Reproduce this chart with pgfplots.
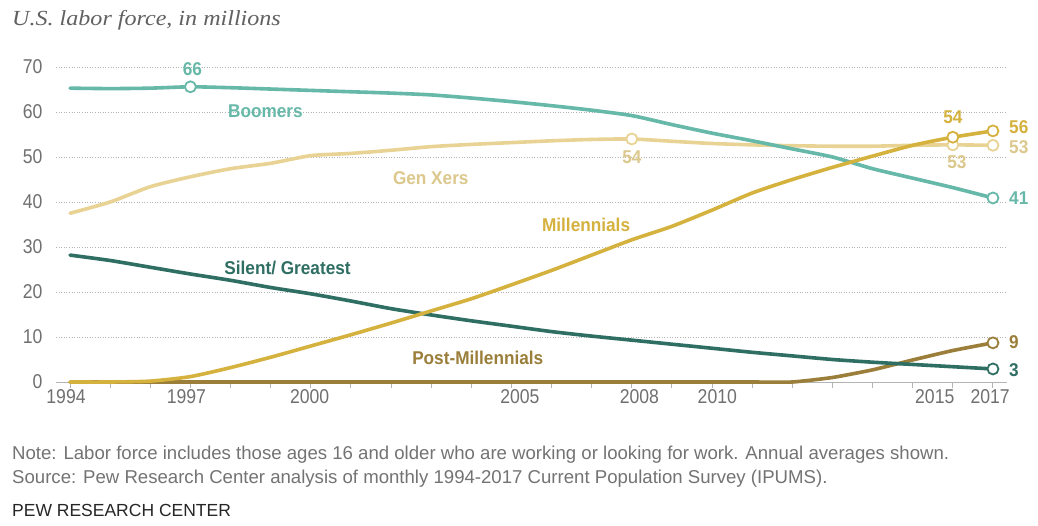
\documentclass[border=0pt]{standalone}
\usepackage{pgfplots}
\pgfplotsset{compat=1.18}
\usepackage{pgfplotstable}
\usepackage{fontspec}
\setmainfont{Liberation Sans}
\newfontfamily\cond[FakeStretch=0.88]{Liberation Sans}
\newfontfamily\lab[FakeStretch=0.93]{Liberation Sans}
\newfontfamily\ttl[FakeStretch=1.12]{Liberation Serif}

\definecolor{boom}{HTML}{66B8A8}
\definecolor{genx}{HTML}{E8D394}
\definecolor{mill}{HTML}{D5B13E}
\definecolor{silent}{HTML}{2F6E62}
\definecolor{postm}{HTML}{9A7E3A}
\definecolor{tick}{HTML}{707070}
\definecolor{grid}{HTML}{B4B4B4}

\pgfplotstableread{
year val
1994 65.3
1995 65.2
1996 65.3
1997 65.6
1998 65.4
1999 65.1
2000 64.8
2001 64.5
2002 64.2
2003 63.8
2004 63.1
2005 62.3
2006 61.4
2007 60.4
2008 59.2
2009 57.2
2010 55.3
2011 53.6
2012 51.8
2013 50.0
2014 47.4
2015 45.3
2016 43.2
2017 40.9
}\boomers

\pgfplotstableread{
year val
1994 37.5
1995 40.0
1996 43.4
1997 45.6
1998 47.4
1999 48.6
2000 50.3
2001 50.8
2002 51.5
2003 52.3
2004 52.8
2005 53.2
2006 53.6
2007 53.9
2008 54.0
2009 53.5
2010 53.0
2011 52.7
2012 52.5
2013 52.4
2014 52.4
2015 52.6
2016 52.7
2017 52.6
}\genx

\pgfplotstableread{
year val
1994 0
1995 0
1996 0.2
1997 1.2
1998 3.2
1999 5.5
2000 8.0
2001 10.5
2002 13.1
2003 15.8
2004 18.5
2005 21.6
2006 24.8
2007 28.2
2008 31.6
2009 34.6
2010 38.2
2011 42.0
2012 45.0
2013 47.7
2014 50.2
2015 52.6
2016 54.4
2017 55.8
}\mill

\pgfplotstableread{
year val
1994 28.2
1995 27.0
1996 25.5
1997 24.0
1998 22.6
1999 21.0
2000 19.6
2001 18.0
2002 16.3
2003 14.9
2004 13.6
2005 12.4
2006 11.2
2007 10.2
2008 9.3
2009 8.4
2010 7.5
2011 6.6
2012 5.8
2013 5.0
2014 4.4
2015 3.9
2016 3.4
2017 2.9
}\silent

\pgfplotstableread{
year val
1994 0
1995 0
1996 0
1997 0
1998 0
1999 0
2000 0
2001 0
2002 0
2003 0
2004 0
2005 0
2006 0
2007 0
2008 0
2009 0
2010 0
2011 0
2012 0
2013 1.0
2014 2.7
2015 4.9
2016 7.0
2017 8.7
}\postm

\begin{document}
\begin{tikzpicture}
\useasboundingbox[fill=white] (0,0) rectangle (1038pt,-525pt);
\begin{axis}[
  at={(56pt,-382pt)}, anchor=south west,
  scale only axis, width=951pt, height=315pt,
  xmin=1993.65, xmax=2017.35, ymin=0, ymax=70,
  clip=false,
  axis x line*=bottom,
  axis y line*=left,
  y axis line style={draw=none},
  x axis line style={draw=grid, line width=0.8pt},
  xtick={1993.9,1996.9,1999.97,2005.21,2008.19,2010.13,2015.55,2016.93},
  xticklabels={1994,1997,2000,2005,2008,2010,2015,2017},
  minor xtick={1994,...,2017},
  major tick length=0pt,
  minor tick length=6pt,
  xtick align=outside,
  minor tick style={draw=grid, line width=0.8pt},
  ytick={0,10,...,70},
  yticklabels={0,10,20,30,40,50,60,70},
  ymajorgrids,
  major grid style={draw=grid, line width=0.9pt, dash pattern=on 1pt off 1.6pt},
  ticklabel style={font=\cond\fontsize{20}{22}\selectfont, text=tick},
  xticklabel style={yshift=-4pt},
  yticklabel style={xshift=-10pt},
  every axis plot/.append style={line width=3.6pt, line join=round, line cap=round},
]
\addplot[postm, smooth, tension=0.3] table[x=year,y=val]{\postm};
\addplot[silent, smooth, tension=0.4] table[x=year,y=val]{\silent};
\addplot[genx, smooth, tension=0.4] table[x=year,y=val]{\genx};
\addplot[boom, smooth, tension=0.4] table[x=year,y=val]{\boomers};
\addplot[mill, smooth, tension=0.4] table[x=year,y=val]{\mill};

% markers at labelled points
\addplot[boom, only marks, mark=*, mark size=5.5pt, mark options={fill=white, line width=1.8pt}] coordinates {(1997,65.6) (2017,40.9)};
\addplot[genx, only marks, mark=*, mark size=5.5pt, mark options={fill=white, line width=1.8pt}] coordinates {(2008,54.0) (2016,52.7) (2017,52.6)};
\addplot[mill, only marks, mark=*, mark size=5.5pt, mark options={fill=white, line width=1.8pt}] coordinates {(2016,54.4) (2017,55.8)};
\addplot[silent, only marks, mark=*, mark size=5.5pt, mark options={fill=white, line width=1.8pt}] coordinates {(2017,2.9)};
\addplot[postm, only marks, mark=*, mark size=5.5pt, mark options={fill=white, line width=1.8pt}] coordinates {(2017,8.7)};

\begin{scope}[every node/.style={font=\lab\bfseries\fontsize{18.5}{20}\selectfont, inner sep=0pt}]
\node[text=boom] at (axis cs:1998.87,60.2) {Boomers};
\node[text=genx!95!black] at (axis cs:2002.99,45.3) {Gen Xers};
\node[text=mill] at (axis cs:2006.86,34.9) {Millennials};
\node[text=silent] at (axis cs:1999.42,25.3) {Silent/ Greatest};
\node[text=postm] at (axis cs:2004.16,5.3) {Post-Millennials};
\node[text=boom] at (axis cs:1997.05,69.6) {66};
\node[text=genx!95!black] at (axis cs:2008.0,50.0) {54};
\node[text=mill] at (axis cs:2016.0,58.9) {54};
\node[text=genx!95!black] at (axis cs:2016.1,48.9) {53};
\node[text=mill, anchor=west] at (axis cs:2017.4,56.7) {56};
\node[text=genx!95!black, anchor=west] at (axis cs:2017.4,52.3) {53};
\node[text=boom, anchor=west] at (axis cs:2017.4,40.9) {41};
\node[text=postm, anchor=west] at (axis cs:2017.4,8.9) {9};
\node[text=silent, anchor=west] at (axis cs:2017.4,2.7) {3};
\end{scope}
\end{axis}

\node[anchor=base west, inner sep=0pt, text=black!62, font=\ttl\itshape\fontsize{21.5}{24}\selectfont] at (12pt,-25pt) {U.S. labor force, in millions};
\node[anchor=base west, inner sep=0pt, text=black!55, font=\fontsize{18.6}{20}\selectfont] at (12pt,-459pt) {Note: Labor force includes those ages 16 and older who are working or looking for work. Annual averages shown.};
\node[anchor=base west, inner sep=0pt, text=black!55, font=\fontsize{18.6}{20}\selectfont] at (12pt,-483pt) {Source: Pew Research Center analysis of monthly 1994-2017 Current Population Survey (IPUMS).};
\node[anchor=base west, inner sep=0pt, text=black!85, font=\fontsize{17.5}{20}\selectfont] at (12pt,-516pt) {PEW RESEARCH CENTER};
\end{tikzpicture}
\end{document}
